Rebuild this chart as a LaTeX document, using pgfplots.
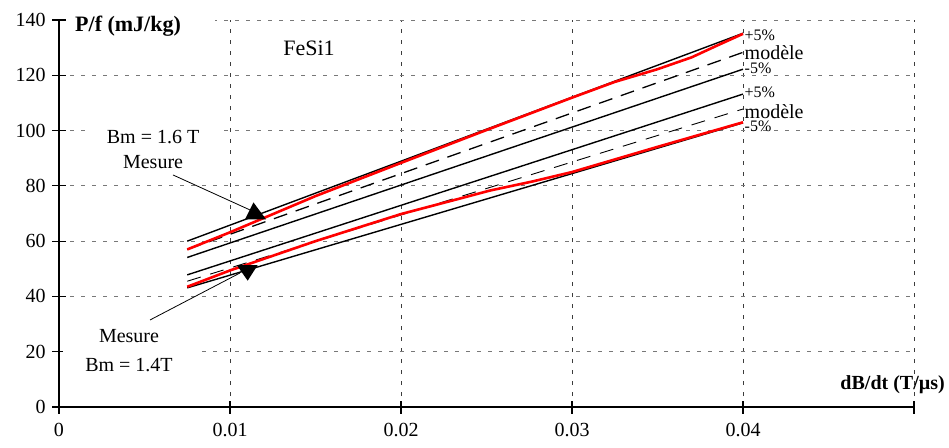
\documentclass[border=0pt]{standalone}
\usepackage{pgfplots}
\pgfplotsset{compat=1.18}
\usepackage{fontspec}
\setmainfont{Liberation Serif}
\definecolor{hgrid}{RGB}{120,120,120}
\definecolor{vgrid}{RGB}{60,60,60}
\begin{document}
\begin{tikzpicture}
\fontsize{20bp}{24bp}\selectfont
\begin{axis}[
 scale only axis, width=855bp, height=387bp,
 xmin=0, xmax=0.05, ymin=0, ymax=140,
 axis lines*=left,
 axis line style={line width=1.3bp, black},
 xtick={0,0.01,0.02,0.03,0.04,0.05},
 xticklabels={0,0.01,0.02,0.03,0.04,{}},
 ytick={0,20,...,140},
 tick align=center, major tick length=13bp,
 tick style={line width=1.1bp, black},
 xmajorgrids, ymajorgrids,
 x grid style={vgrid, line width=0.9bp, dash pattern=on 4bp off 7bp},
 y grid style={hgrid, line width=0.9bp, dash pattern=on 4bp off 7bp},
 tick label style={font=\fontsize{20bp}{24bp}\selectfont},
 /pgf/number format/assume math mode=true,
 xticklabel style={inner ysep=0pt, yshift=-9bp},
 clip=false,
]
\coordinate (sw) at (rel axis cs:0,0);
\coordinate (ne) at (rel axis cs:1,1);
% Bm = 1.6 T : +5%, modele, -5%
\addplot[black, line width=1.4bp] coordinates {(0.0075,60.0) (0.04,135.2)};
\addplot[black, line width=1.3bp, dash pattern=on 14bp off 9bp] coordinates {(0.0075,57.0) (0.04,128.3)};
\addplot[black, line width=1.4bp] coordinates {(0.0075,54.1) (0.04,122.2)};
% Bm = 1.4 T : +5%, modele, -5%
\addplot[black, line width=1.4bp] coordinates {(0.0075,47.8) (0.04,113.2)};
\addplot[black, line width=0.9bp, dash pattern=on 14bp off 10bp] coordinates {(0.0075,45.5) (0.04,107.8)};
\addplot[black, line width=1.4bp] coordinates {(0.0075,43.1) (0.04,102.8)};
% Mesures
\addplot[red, line width=2.6bp, line join=round] coordinates {(0.0075,57.0) (0.01,63.2) (0.015,76.3) (0.02,88.3) (0.025,100.2) (0.03,111.9) (0.0325,117.6) (0.035,122.2) (0.037,126.5) (0.0385,130.8) (0.04,135.0)};
\addplot[red, line width=2.6bp, line join=round] coordinates {(0.0075,43.5) (0.01,49.4) (0.015,60.0) (0.02,69.8) (0.0235,75.5) (0.0252,78.3) (0.0277,81.6) (0.03,85.0) (0.035,94.1) (0.04,103.0)};

% end labels
\node[anchor=west, inner sep=0.5bp, font=\fontsize{16bp}{18bp}\selectfont] at ([xshift=1bp]axis cs:0.04,134.6) {+5\%};
\node[anchor=west, inner sep=0.5bp, font=\fontsize{20bp}{24bp}\selectfont] at ([xshift=1bp]axis cs:0.04,128.1) {modèle};
\node[anchor=west, inner sep=0.5bp, font=\fontsize{16bp}{18bp}\selectfont] at ([xshift=1bp]axis cs:0.04,122.4) {-5\%};
\node[anchor=west, inner sep=0.5bp, font=\fontsize{16bp}{18bp}\selectfont] at ([xshift=1bp]axis cs:0.04,113.8) {+5\%};
\node[anchor=west, inner sep=0.5bp, font=\fontsize{20bp}{24bp}\selectfont] at ([xshift=1bp]axis cs:0.04,106.9) {modèle};
\node[anchor=west, inner sep=0.5bp, font=\fontsize{16bp}{18bp}\selectfont] at ([xshift=1bp]axis cs:0.04,101.5) {-5\%};

% titles
\node[font=\fontsize{22bp}{26bp}\selectfont] at (axis cs:0.01462,129.9) {FeSi1};
\node[anchor=base west, fill=white, inner xsep=0pt, inner ysep=1bp] at ([xshift=8bp,yshift=-12bp]axis cs:0,140) {\makebox[148bp][l]{\hspace*{8bp}\fontsize{22bp}{25bp}\selectfont\bfseries P/f (mJ/kg)}};
\node[anchor=base east, inner sep=0pt] at ([xshift=31bp,yshift=18bp]axis cs:0.05,0) {\fontsize{20bp}{24bp}\selectfont\bfseries dB/dt (T/µs)};

% annotations
\node[fill=white, align=center, inner xsep=20bp, inner ysep=2bp, font=\fontsize{20bp}{25bp}\selectfont] at (axis cs:0.0055,93.2) {Bm = 1.6 T\\Mesure};
\node[fill=white, align=center, inner xsep=22bp, inner ysep=2bp, font=\fontsize{20bp}{29bp}\selectfont] at (axis cs:0.004094,20.4) {Mesure\\Bm = 1.4T};
\draw[black, line width=0.8bp] (axis cs:0.006667,83.94) -- (axis cs:0.01117,71.28);
\draw[black, line width=0.8bp] (axis cs:0.005322,31.48) -- (axis cs:0.010585,48.48);
\fill[black] (axis cs:0.011374,73.99) -- ++(-8.5bp,-16.8bp) -- ++(21bp,0bp) -- cycle;
\fill[black] (axis cs:0.010392,51.37) -- ++(21bp,0bp) -- ++(-10bp,-15.7bp) -- cycle;
\end{axis}
\pgfresetboundingbox
\path ([shift={(-59bp,-40bp)}]sw) rectangle ([shift={(35bp,20bp)}]ne);
\end{tikzpicture}
\end{document}
